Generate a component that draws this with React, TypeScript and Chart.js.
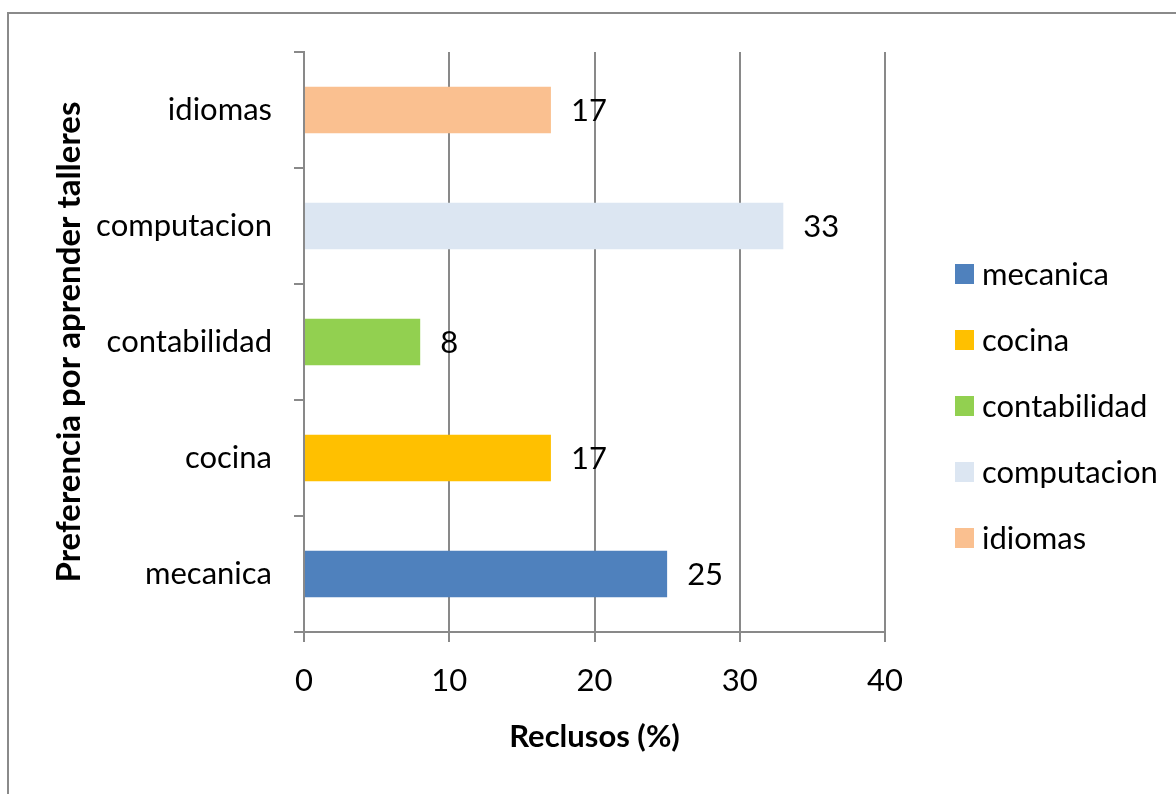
import React, { useEffect, useRef } from "react";
import { Chart, registerables } from "chart.js";

Chart.register(...registerables);

// Workshop preference (%) per category, listed bottom to top
const categories = ["mecanica", "cocina", "contabilidad", "computacion", "idiomas"];
const values = [25, 17, 8, 33, 17];
const barColors = ["#4F81BD", "#FFC000", "#92D050", "#DCE6F2", "#FAC090"];
const xTickValues = [0, 10, 20, 30, 40];
const xTitle = "Reclusos (%)";
const yTitle = "Preferencia por aprender talleres";

const FONT = "Lato, 'Open Sans', sans-serif";
const GRID = "#898989";
const TICK_SIZE = 31;
const X_TITLE_SIZE = 31;
const Y_TITLE_SIZE = 33;

// Gray frame around the whole chart
const framePlugin = {
  id: "frame",
  afterDraw(chart: any) {
    const ctx = chart.ctx;
    ctx.save();
    ctx.strokeStyle = "#8a8a8a";
    ctx.lineWidth = 2;
    ctx.strokeRect(8, 13, 1400, 1000);
    ctx.restore();
  },
};

// Value written just past the end of each bar
const valueLabelPlugin = {
  id: "valueLabels",
  afterDatasetsDraw(chart: any) {
    const ctx = chart.ctx;
    const meta = chart.getDatasetMeta(0);
    ctx.save();
    ctx.font = `${TICK_SIZE}px ${FONT}`;
    ctx.fillStyle = "#000";
    ctx.textAlign = "left";
    ctx.textBaseline = "middle";
    meta.data.forEach((bar: any, i: number) => {
      ctx.fillText(String(values[i]), bar.x + 20, bar.y + 1);
    });
    ctx.restore();
  },
};

// Legend column on the right, one swatch per category
const legendPlugin = {
  id: "sideLegend",
  afterDraw(chart: any) {
    const ctx = chart.ctx;
    const x = 955;
    const firstY = 274;
    const step = 66;
    ctx.save();
    ctx.font = `${TICK_SIZE}px ${FONT}`;
    ctx.textAlign = "left";
    ctx.textBaseline = "middle";
    categories.forEach((name, i) => {
      const cy = firstY + i * step;
      ctx.fillStyle = barColors[i];
      ctx.fillRect(x, cy - 10, 19, 20);
      ctx.fillStyle = "#000";
      ctx.fillText(name, x + 27, cy + 1);
    });
    ctx.restore();
  },
};

export default function App() {
  const canvasRef = useRef<HTMLCanvasElement | null>(null);

  useEffect(() => {
    if (!canvasRef.current) return;
    const chart = new Chart(canvasRef.current, {
      type: "bar",
      data: {
        labels: categories,
        datasets: [
          {
            data: values,
            backgroundColor: barColors,
            borderWidth: 0,
            categoryPercentage: 0.8,
            barPercentage: 0.5,
          },
        ],
      },
      options: {
        indexAxis: "y",
        responsive: false,
        animation: false,
        devicePixelRatio: 1,
        layout: { padding: { left: 46, top: 52, right: 291, bottom: 34 } },
        plugins: {
          legend: { display: false },
          tooltip: { enabled: false },
        },
        scales: {
          x: {
            type: "linear",
            min: 0,
            max: 40,
            afterBuildTicks(scale: any) {
              scale.ticks = xTickValues.map((v) => ({ value: v }));
            },
            afterFit(scale: any) {
              scale.height = 128;
            },
            grid: {
              color: GRID,
              lineWidth: 2,
              tickLength: 10,
              drawOnChartArea: true,
            },
            border: { color: GRID, width: 2 },
            ticks: {
              color: "#000",
              padding: 20,
              font: { family: FONT, size: TICK_SIZE },
            },
            title: {
              display: true,
              text: xTitle,
              color: "#000",
              font: { family: FONT, size: X_TITLE_SIZE, weight: "bold" },
            },
          },
          y: {
            type: "category",
            reverse: true,
            afterFit(scale: any) {
              scale.width = 258;
            },
            grid: {
              color: GRID,
              lineWidth: 2,
              tickLength: 10,
              drawOnChartArea: false,
            },
            border: { color: GRID, width: 2 },
            ticks: {
              color: "#000",
              padding: 22,
              font: { family: FONT, size: TICK_SIZE },
            },
            title: {
              display: true,
              text: yTitle,
              color: "#000",
              font: { family: FONT, size: Y_TITLE_SIZE, weight: "bold" },
            },
          },
        },
      },
      plugins: [framePlugin, valueLabelPlugin, legendPlugin],
    } as any);
    return () => chart.destroy();
  }, []);

  return (
    <div style={{ position: "fixed", left: 0, top: 0, width: 1176, height: 794, background: "#fff" }}>
      <canvas ref={canvasRef} width={1176} height={794} style={{ display: "block" }} />
    </div>
  );
}
